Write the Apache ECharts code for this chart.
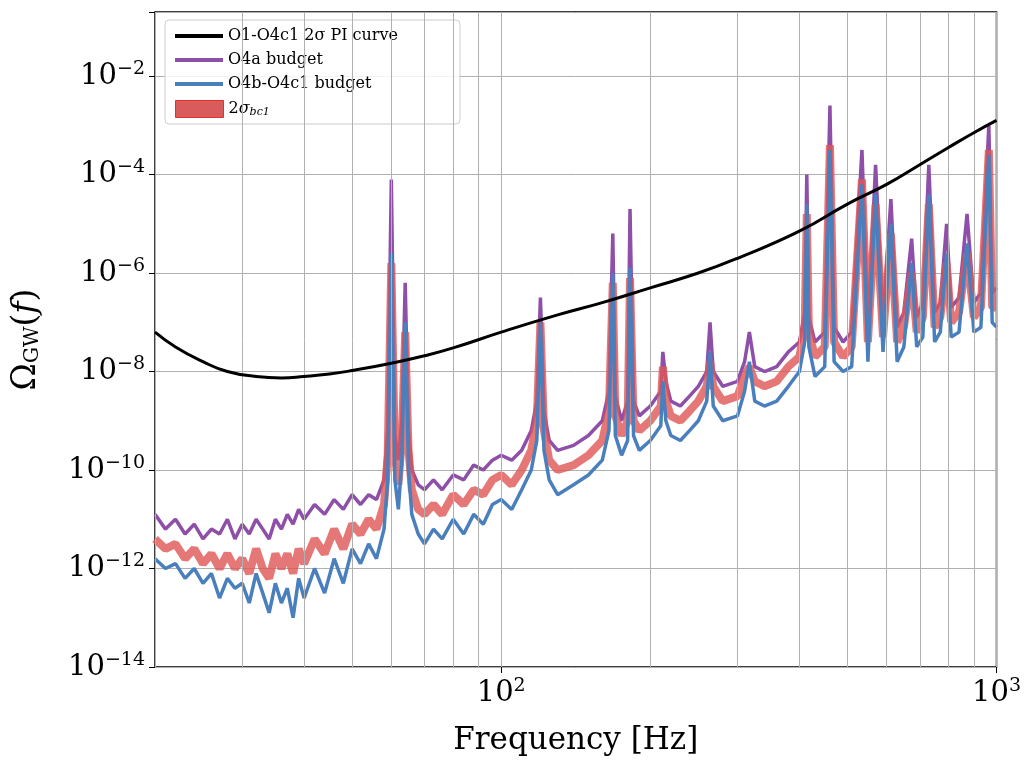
<!DOCTYPE html>
<html>
<head>
<meta charset="utf-8">
<script src="https://cdn.jsdelivr.net/npm/echarts@6/dist/echarts.min.js"></script>
<style>html,body{margin:0;padding:0;background:#fff}#chart{width:1024px;height:771px}</style>
</head>
<body>
<div id="chart"></div>
<script>
// frequencies of the budget curves [Hz]
const freq = [20,21,22,23,24,25,26,27,28,29,30,31,32,33,34,35,36,37,38,39,40,42,44,46,48,50,52,54,56,58,59,60,61,62,63,64,65,66,68,70,73,76,80,84,88,92,96,100,105,110,115,118,120,122,125,130,140,150,160,165,168,170,175,180,182,185,190,200,210,212,215,220,230,240,250,260,264,268,280,300,310,317,325,340,360,380,400,410,414,418,430,450,461,470,490,510,535,550,570,590,612,630,650,674,690,710,730,750,770,793,810,840,872,900,930,965,980,1000];
// log10 of Omega_GW
const o4aExp = [-10.9,-11.2,-11.0,-11.3,-11.1,-11.4,-11.2,-11.3,-11.0,-11.4,-11.1,-11.3,-11.0,-11.2,-11.4,-11.0,-11.2,-10.9,-11.1,-10.8,-11.0,-10.7,-10.9,-10.6,-10.8,-10.5,-10.7,-10.5,-10.6,-10.2,-9.2,-4.1,-9.3,-9.8,-9.0,-6.2,-9.2,-10.0,-10.3,-10.4,-10.2,-10.4,-10.1,-10.2,-9.9,-10.0,-9.8,-9.7,-9.8,-9.6,-9.2,-8.6,-6.5,-8.8,-9.4,-9.6,-9.5,-9.3,-9.0,-8.4,-5.2,-8.5,-9.0,-8.6,-4.7,-8.6,-8.9,-8.7,-8.4,-7.6,-8.2,-8.6,-8.7,-8.5,-8.3,-8.0,-7.0,-8.0,-8.3,-8.2,-7.8,-7.2,-7.9,-8.0,-7.9,-7.6,-7.4,-6.8,-4.0,-6.9,-7.4,-7.2,-2.6,-7.1,-7.4,-7.2,-3.5,-7.1,-3.8,-7.0,-4.5,-7.1,-6.8,-5.3,-6.9,-6.6,-3.8,-6.8,-6.6,-5.0,-6.7,-6.5,-4.8,-6.6,-6.4,-3.0,-6.4,-6.3];
const o4bExp = [-11.8,-12.0,-11.9,-12.2,-12.0,-12.3,-12.1,-12.6,-12.2,-12.4,-12.3,-12.7,-12.1,-12.5,-12.9,-12.3,-12.7,-12.4,-13.0,-12.2,-12.6,-12.0,-12.5,-11.8,-12.3,-11.6,-11.9,-11.5,-11.8,-11.2,-10.2,-5.6,-10.2,-10.8,-9.8,-7.0,-10.0,-10.9,-11.3,-11.5,-11.2,-11.4,-11.0,-11.3,-10.9,-11.1,-10.7,-10.6,-10.8,-10.4,-10.0,-9.4,-7.0,-9.6,-10.2,-10.5,-10.3,-10.1,-9.8,-9.2,-6.0,-9.3,-9.7,-9.4,-5.9,-9.3,-9.6,-9.4,-9.1,-8.2,-9.0,-9.3,-9.4,-9.2,-9.0,-8.6,-7.6,-8.7,-9.0,-8.9,-8.4,-7.8,-8.6,-8.7,-8.6,-8.3,-8.0,-7.4,-4.6,-7.5,-8.1,-7.9,-3.5,-7.8,-8.0,-7.9,-4.2,-7.8,-4.4,-7.6,-5.0,-7.8,-7.5,-5.8,-7.5,-7.3,-4.4,-7.4,-7.2,-5.6,-7.3,-7.2,-5.4,-7.2,-7.1,-3.6,-7.0,-7.1];
const sigmaExp = [-11.4,-11.6,-11.5,-11.8,-11.6,-11.9,-11.7,-12.0,-11.7,-12.0,-11.8,-12.1,-11.6,-12.0,-12.2,-11.7,-12.0,-11.7,-12.1,-11.6,-11.9,-11.4,-11.7,-11.2,-11.6,-11.1,-11.3,-11.0,-11.2,-10.7,-9.7,-5.8,-9.7,-10.3,-9.4,-7.2,-9.6,-10.4,-10.8,-10.9,-10.7,-10.9,-10.5,-10.7,-10.4,-10.5,-10.2,-10.1,-10.3,-10.0,-9.6,-9.0,-7.0,-9.2,-9.8,-10.0,-9.9,-9.7,-9.4,-8.8,-6.2,-8.9,-9.3,-9.0,-6.1,-9.0,-9.2,-9.0,-8.7,-7.9,-8.6,-8.9,-9.0,-8.8,-8.6,-8.3,-7.8,-8.3,-8.6,-8.5,-8.1,-7.9,-8.2,-8.3,-8.2,-7.9,-7.7,-7.1,-4.8,-7.2,-7.7,-7.5,-3.4,-7.4,-7.7,-7.5,-4.1,-7.4,-4.6,-7.3,-5.2,-7.4,-7.1,-6.0,-7.2,-6.9,-4.6,-7.1,-6.9,-5.8,-7.0,-6.8,-5.6,-6.9,-6.7,-3.5,-6.7,-6.7];
// PI curve
const piFreq = [20,22,25,28,32,36,40,45,50,60,70,80,100,130,160,200,250,300,400,500,600,700,800,900,1000];
const piExp = [-7.2,-7.5,-7.8,-8.0,-8.1,-8.13,-8.1,-8.05,-7.98,-7.83,-7.68,-7.52,-7.2,-6.85,-6.6,-6.3,-6.0,-5.7,-5.15,-4.6,-4.2,-3.8,-3.45,-3.15,-2.9];
const gridFreq = [20,30,40,50,60,70,80,90,100,200,300,400,500,600,700,800,900,1000];

const toPairs = (xs, es) => xs.map((x, i) => [x, Math.pow(10, es[i])]);
const serif = 'DejaVu Serif';
const supFmt = function (v) {
  const e = Math.log10(v);
  if (Math.abs(e - Math.round(e)) > 1e-6) return '';
  const r = Math.round(e);
  return '{b|10}{s|' + (r < 0 ? '\u2212' + (-r) : r) + '}';
};
const supRich = { b: { fontSize: 29, fontFamily: serif, color: '#000' }, s: { fontSize: 19, fontFamily: serif, color: '#000', verticalAlign: 'top', padding: [0, 0, 14, 0] } };
const legText = { fontFamily: serif, fontSize: 16, color: '#000', rich: { sub: { fontSize: 11, fontFamily: serif, fontStyle: 'italic', verticalAlign: 'bottom', padding: [6, 0, 0, 0] }, g: { fontSize: 16, fontFamily: serif, fontStyle: 'italic' } } };

const chart = echarts.init(document.getElementById('chart'));
chart.setOption({
  animation: false,
  grid: { left: 155, right: 26, top: 12, bottom: 104, show: true, borderColor: '#000', borderWidth: 1.5 },
  legend: [{
    left: 165, top: 20, orient: 'vertical', itemGap: 8, itemWidth: 48, itemHeight: 4, icon: 'rect',
    backgroundColor: 'rgba(255,255,255,0.85)', borderColor: '#ccc', borderWidth: 1, borderRadius: 4, padding: [8, 62, 32, 10],
    textStyle: legText,
    data: ['O1-O4c1 2σ PI curve', 'O4a budget', 'O4b-O4c1 budget']
  }, {
    left: 175, top: 100, orient: 'vertical', itemWidth: 48, itemHeight: 17, icon: 'rect', padding: 0,
    textStyle: legText,
    formatter: function () { return '2{g|σ}{sub|bc1}'; },
    data: [{ name: 'sigma', itemStyle: { color: '#d95b5b', borderColor: '#e03030', borderWidth: 1 } }]
  }],
  xAxis: {
    type: 'log', min: 20, max: 1000, logBase: 10,
    name: 'Frequency [Hz]', nameLocation: 'middle', nameGap: 58,
    nameTextStyle: { fontFamily: serif, fontSize: 31, color: '#000' },
    axisLine: { show: false }, axisTick: { show: true, length: 6, inside: false, lineStyle: { color: '#000' } },
    splitLine: { show: false },
    axisLabel: { formatter: supFmt, rich: supRich, margin: 10, showMinLabel: false }
  },
  yAxis: {
    type: 'log', min: 1e-14, max: 0.2, interval: 2, logBase: 10,
    name: '{a|Ω}{sub|GW}{a|(}{i|f}{a|)}', nameLocation: 'middle', nameGap: 112, nameRotate: 90,
    nameTextStyle: { rich: { a: { fontSize: 33, fontFamily: serif, color: '#000' }, i: { fontSize: 33, fontFamily: serif, fontStyle: 'italic', color: '#000' }, sub: { fontSize: 20, fontFamily: serif, color: '#000', verticalAlign: 'bottom', padding: [12, 0, 0, 0] } } },
    axisLine: { show: false }, axisTick: { show: true, length: 6, lineStyle: { color: '#000' } },
    splitLine: { show: true, lineStyle: { color: '#b0b0b0', width: 1 } },
    axisLabel: { formatter: supFmt, rich: supRich, margin: 10 }
  },
  series: [
    {
      name: 'O4a budget', type: 'line', showSymbol: false, z: 2,
      data: toPairs(freq, o4aExp), lineStyle: { color: '#8e4fa8', width: 3.5 }, itemStyle: { color: '#8e4fa8' },
      markLine: { silent: true, symbol: 'none', label: { show: false }, lineStyle: { color: '#b0b0b0', width: 1, type: 'solid' }, data: gridFreq.map(f => ({ xAxis: f })) }
    },
    { name: 'sigma', type: 'line', showSymbol: false, z: 3, data: toPairs(freq, sigmaExp), lineStyle: { color: '#e05555', width: 8, opacity: 0.8 }, itemStyle: { color: '#d95b5b' } },
    { name: 'O4b-O4c1 budget', type: 'line', showSymbol: false, z: 4, data: toPairs(freq, o4bExp), lineStyle: { color: '#4a7fbd', width: 3.5 }, itemStyle: { color: '#4a7fbd' } },
    { name: 'O1-O4c1 2σ PI curve', type: 'line', showSymbol: false, smooth: true, z: 5, data: toPairs(piFreq, piExp), lineStyle: { color: '#000', width: 3 }, itemStyle: { color: '#000' } }
  ]
});
</script>
</body>
</html>
